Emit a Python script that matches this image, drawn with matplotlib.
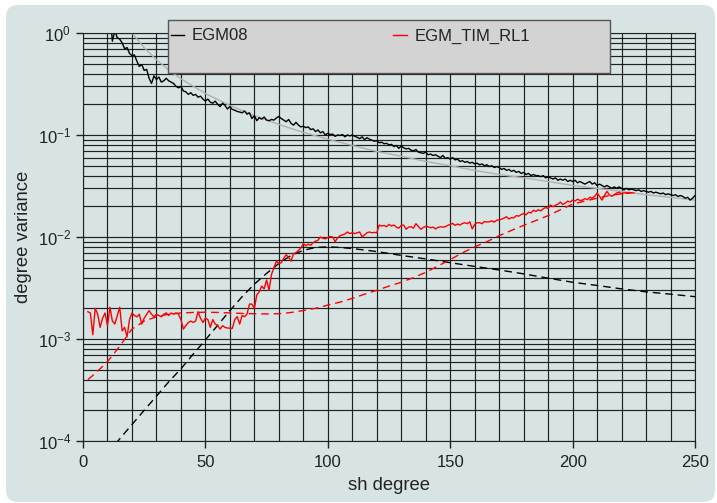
import matplotlib
matplotlib.use("Agg")
import matplotlib.pyplot as plt
import numpy as np
from matplotlib.patches import FancyBboxPatch, Rectangle
from matplotlib.ticker import MultipleLocator, LogLocator, NullFormatter

plt.rcParams['font.family'] = ['Liberation Sans', 'DejaVu Sans']
plt.rcParams['font.size'] = 12
plt.rcParams['text.color'] = '#222222'
plt.rcParams['axes.labelcolor'] = '#222222'
plt.rcParams['xtick.color'] = '#222222'
plt.rcParams['ytick.color'] = '#222222'

# === EGM08 degree variances (degree 11..250) ===
egm08_deg = np.arange(11, 251)
egm08_var = [
    1.6, 0.83, 1.05, 0.90, 0.87, 0.80, 0.70, 0.72, 0.63, 0.60,
    0.61, 0.53, 0.47, 0.49, 0.43, 0.44, 0.36, 0.32, 0.38, 0.35,
    0.37, 0.33, 0.34, 0.36, 0.34, 0.33, 0.32, 0.30, 0.29, 0.30,
    0.27, 0.265, 0.25, 0.26, 0.245, 0.25, 0.235, 0.24, 0.225, 0.215,
    0.225, 0.21, 0.205, 0.215, 0.20, 0.19, 0.205, 0.195, 0.18, 0.19,
    0.178, 0.175, 0.17, 0.168, 0.165, 0.172, 0.16, 0.165, 0.145, 0.155,
    0.138, 0.148, 0.143, 0.15, 0.14, 0.138, 0.142, 0.14, 0.147, 0.152,
    0.145, 0.14, 0.135, 0.142, 0.13, 0.125, 0.133, 0.125, 0.12, 0.122,
    0.118, 0.12, 0.113, 0.115, 0.108, 0.112, 0.105, 0.108, 0.10, 0.104,
    0.101, 0.102, 0.097, 0.10, 0.099, 0.101, 0.096, 0.10, 0.098, 0.10,
    0.097, 0.095, 0.092, 0.096, 0.09, 0.094, 0.091, 0.089, 0.087, 0.088,
    0.084, 0.085, 0.082, 0.083, 0.08, 0.081, 0.077, 0.079, 0.074, 0.078,
    0.075, 0.073, 0.074, 0.071, 0.07, 0.072, 0.068, 0.067, 0.066, 0.068,
    0.064, 0.065, 0.063, 0.064, 0.062, 0.06, 0.063, 0.059, 0.06, 0.058,
    0.06, 0.057, 0.058, 0.055, 0.056, 0.054, 0.055, 0.053, 0.054, 0.052,
    0.053, 0.051, 0.052, 0.05, 0.051, 0.049, 0.05, 0.048, 0.049, 0.048,
    0.046, 0.047, 0.045, 0.046, 0.044, 0.045, 0.043, 0.044, 0.042, 0.043,
    0.041, 0.042, 0.04, 0.041, 0.04, 0.04, 0.039, 0.04, 0.038, 0.039,
    0.038, 0.037, 0.038, 0.036, 0.037, 0.036, 0.037, 0.035, 0.036, 0.035,
    0.036, 0.034, 0.035, 0.034, 0.033, 0.034, 0.035, 0.033, 0.034, 0.032,
    0.033, 0.032, 0.031, 0.032, 0.031, 0.03, 0.031, 0.03, 0.031, 0.03,
    0.029, 0.03, 0.029, 0.0295, 0.029, 0.0285, 0.029, 0.028, 0.0285, 0.028,
    0.0275, 0.028, 0.027, 0.0275, 0.027, 0.0265, 0.027, 0.026, 0.0265, 0.026,
    0.0255, 0.026, 0.025, 0.0255, 0.025, 0.024, 0.0245, 0.023, 0.024, 0.0255,
]

# === EGM08 smooth (Kaula-like) model ===
kaula_deg = [20, 25, 30, 35, 40, 50, 60, 70, 80, 90, 100, 110, 120, 130,
             140, 150, 160, 170, 180, 190, 200, 210, 220, 230, 240, 250]
kaula_var = [1.0, 0.717, 0.547, 0.434, 0.356, 0.255, 0.195, 0.155, 0.127, 0.106,
             0.091, 0.079, 0.069, 0.062, 0.055, 0.050, 0.045, 0.041, 0.038, 0.035,
             0.032, 0.030, 0.028, 0.026, 0.0245, 0.023]

# === EGM08 error degree variances (dashed black) ===
egm08_err_deg = [10, 15, 20, 25, 30, 35, 40, 45, 50, 55, 60, 65, 70, 75, 80, 85,
                 90, 95, 100, 105, 110, 115, 120, 130, 140, 150, 160, 170, 180,
                 190, 200, 210, 220, 230, 240, 250]
egm08_err = [7.5e-5, 1.05e-4, 1.45e-4, 2.0e-4, 2.75e-4, 3.8e-4, 5.1e-4, 7.1e-4,
             9.8e-4, 1.36e-3, 1.9e-3, 2.6e-3, 3.45e-3, 4.4e-3, 5.5e-3, 6.6e-3,
             7.4e-3, 7.9e-3, 8.0e-3, 7.9e-3, 7.7e-3, 7.45e-3, 7.2e-3, 6.6e-3,
             6.1e-3, 5.6e-3, 5.15e-3, 4.75e-3, 4.35e-3, 3.95e-3, 3.6e-3, 3.35e-3,
             3.1e-3, 2.9e-3, 2.75e-3, 2.6e-3]

# === EGM_TIM_RL1 difference degree variances (degree 2..225) ===
tim_deg = np.arange(2, 226)
tim_var = [
    1.85e-3, 1.8e-3, 1.1e-3, 2.0e-3, 1.75e-3, 1.3e-3, 1.6e-3, 1.8e-3, 1.35e-3, 2.05e-3,
    1.5e-3, 1.4e-3, 1.7e-3, 2.05e-3, 1.2e-3, 1.3e-3, 1.05e-3, 1.55e-3, 1.8e-3, 1.7e-3,
    1.65e-3, 1.75e-3, 1.4e-3, 1.6e-3, 1.75e-3, 1.9e-3, 1.75e-3, 1.65e-3, 1.75e-3, 1.7e-3,
    1.65e-3, 1.75e-3, 1.8e-3, 1.7e-3, 1.8e-3, 1.75e-3, 1.8e-3, 1.75e-3, 1.55e-3, 1.25e-3,
    1.35e-3, 1.45e-3, 1.5e-3, 1.45e-3, 1.5e-3, 1.85e-3, 1.6e-3, 1.45e-3, 1.6e-3, 1.55e-3,
    1.3e-3, 1.55e-3, 1.4e-3, 1.35e-3, 1.25e-3, 1.35e-3, 1.3e-3, 1.28e-3, 1.28e-3, 1.27e-3,
    1.55e-3, 1.66e-3, 1.4e-3, 1.7e-3, 1.65e-3, 1.76e-3, 2.2e-3, 2.2e-3, 2.0e-3, 2.7e-3,
    2.9e-3, 3.3e-3, 3.1e-3, 3.8e-3, 3.0e-3, 4.3e-3, 5.0e-3, 5.8e-3, 5.5e-3, 5.6e-3,
    6.2e-3, 6.7e-3, 6.3e-3, 5.8e-3, 6.9e-3, 7.0e-3, 7.4e-3, 7.8e-3, 8.6e-3, 8.2e-3,
    8.5e-3, 8.3e-3, 8.8e-3, 9.1e-3, 9.3e-3, 1.0e-2, 9.7e-3, 9.6e-3, 9.9e-3, 1.01e-2,
    1.0e-2, 9.0e-3, 9.8e-3, 1.03e-2, 1.05e-2, 1.07e-2, 1.12e-2, 1.08e-2, 1.1e-2, 1.08e-2,
    1.1e-2, 1.12e-2, 1.0e-2, 1.05e-2, 1.1e-2, 1.12e-2, 1.1e-2, 1.11e-2, 1.1e-2, 1.31e-2,
    1.28e-2, 1.3e-2, 1.26e-2, 1.33e-2, 1.28e-2, 1.31e-2, 1.25e-2, 1.22e-2, 1.3e-2, 1.31e-2,
    1.19e-2, 1.25e-2, 1.26e-2, 1.22e-2, 1.35e-2, 1.27e-2, 1.19e-2, 1.24e-2, 1.27e-2, 1.26e-2,
    1.23e-2, 1.25e-2, 1.2e-2, 1.24e-2, 1.26e-2, 1.25e-2, 1.26e-2, 1.3e-2, 1.33e-2, 1.36e-2,
    1.3e-2, 1.34e-2, 1.31e-2, 1.36e-2, 1.38e-2, 1.35e-2, 1.41e-2, 1.2e-2, 1.33e-2, 1.38e-2,
    1.38e-2, 1.35e-2, 1.42e-2, 1.4e-2, 1.41e-2, 1.44e-2, 1.4e-2, 1.46e-2, 1.47e-2, 1.5e-2,
    1.53e-2, 1.58e-2, 1.5e-2, 1.55e-2, 1.54e-2, 1.62e-2, 1.6e-2, 1.66e-2, 1.7e-2, 1.65e-2,
    1.75e-2, 1.72e-2, 1.83e-2, 1.78e-2, 1.85e-2, 1.8e-2, 1.89e-2, 1.95e-2, 1.9e-2, 2.06e-2,
    1.98e-2, 2.05e-2, 2.1e-2, 2.2e-2, 2.08e-2, 2.15e-2, 2.25e-2, 2.2e-2, 2.3e-2, 2.25e-2,
    2.35e-2, 2.28e-2, 2.3e-2, 2.38e-2, 2.32e-2, 2.45e-2, 2.4e-2, 2.5e-2, 2.7e-2, 2.5e-2,
    2.3e-2, 2.55e-2, 2.8e-2, 2.6e-2, 2.5e-2, 2.6e-2, 2.7e-2, 2.75e-2, 2.65e-2, 2.7e-2,
    2.72e-2, 2.7e-2, 2.72e-2, 2.7e-2,
]

# === EGM_TIM_RL1 error degree variances (dashed red) ===
tim_err_deg = [2, 5, 10, 15, 20, 25, 30, 35, 40, 45, 50, 55, 60, 65, 70, 75, 80,
               85, 90, 95, 100, 105, 110, 115, 120, 125, 130, 135, 140, 145, 150,
               155, 160, 165, 170, 175, 180, 185, 190, 195, 200, 205, 210, 215,
               220, 224]
tim_err = [4.0e-4, 4.6e-4, 6.0e-4, 8.5e-4, 1.25e-3, 1.5e-3, 1.65e-3, 1.75e-3,
           1.8e-3, 1.82e-3, 1.83e-3, 1.82e-3, 1.8e-3, 1.78e-3, 1.77e-3, 1.76e-3,
           1.77e-3, 1.82e-3, 1.9e-3, 2.0e-3, 2.15e-3, 2.3e-3, 2.5e-3, 2.75e-3,
           3.0e-3, 3.3e-3, 3.6e-3, 4.0e-3, 4.5e-3, 5.2e-3, 6.0e-3, 7.0e-3,
           8.0e-3, 9.0e-3, 1.03e-2, 1.16e-2, 1.3e-2, 1.45e-2, 1.62e-2, 1.85e-2,
           2.1e-2, 2.25e-2, 2.4e-2, 2.55e-2, 2.65e-2, 2.7e-2]

bg = '#d7e4e3'

fig = plt.figure(figsize=(7.17, 5.03), dpi=100, facecolor='white')
panel = FancyBboxPatch((0.06, 0.01), 7.09, 4.97,
                       boxstyle='round,pad=0,rounding_size=0.12',
                       transform=fig.dpi_scale_trans, facecolor=bg,
                       edgecolor='none', zorder=-10)
fig.patches.append(panel)

ax = fig.add_axes([83/717, 62/503, 612/717, 408/503])
ax.set_facecolor(bg)

ax.plot(kaula_deg, kaula_var, color='#b0b0b0', lw=1.0)
ax.plot(egm08_deg, egm08_var, color='black', lw=1.0, label='EGM08')
ax.plot(egm08_err_deg, egm08_err, color='black', lw=1.0, dashes=(5.5, 3.5))
ax.plot(tim_deg, tim_var, color='red', lw=1.0, label='EGM_TIM_RL1')
ax.plot(tim_err_deg, tim_err, color='red', lw=1.0, dashes=(5.5, 3.5))

ax.set_yscale('log')
ax.set_xlim(0, 250)
ax.set_ylim(1e-4, 1)
ax.xaxis.set_major_locator(MultipleLocator(50))
ax.xaxis.set_minor_locator(MultipleLocator(10))
ax.yaxis.set_major_locator(LogLocator(base=10, numticks=10))
ax.yaxis.set_minor_locator(LogLocator(base=10, subs=np.arange(2, 10), numticks=10))
ax.yaxis.set_minor_formatter(NullFormatter())
ax.grid(True, which='both', color='black', lw=0.85, alpha=0.85)
ax.set_axisbelow(True)
ax.tick_params(which='major', length=5, width=1, labelsize=12, direction='out')
ax.tick_params(which='minor', length=0)
ax.tick_params(axis='x', pad=5)
for s in ax.spines.values():
    s.set_color('#222222')

ax.set_xlabel('sh degree', fontsize=13.3, labelpad=5)
ax.set_ylabel('degree variance', fontsize=13.3)

# legend box
lx, ly, lw_, lh = 168/717, (503-73)/503, 442/717, 53/503
fig.patches.append(Rectangle((lx, ly), lw_, lh, transform=fig.transFigure,
                             facecolor='#d3d3d3', edgecolor='#555555', lw=1, zorder=4))
h, l = ax.get_legend_handles_labels()
leg = fig.legend(h, l, ncol=2, loc='upper left',
                 bbox_to_anchor=(171/717, 1 - 28.5/503), frameon=False, fontsize=12,
                 handlelength=0.8, handletextpad=0.45, columnspacing=8.7,
                 borderpad=0, borderaxespad=0)
leg.set_zorder(6)

plt.savefig('out.png', dpi=100, facecolor='white')
